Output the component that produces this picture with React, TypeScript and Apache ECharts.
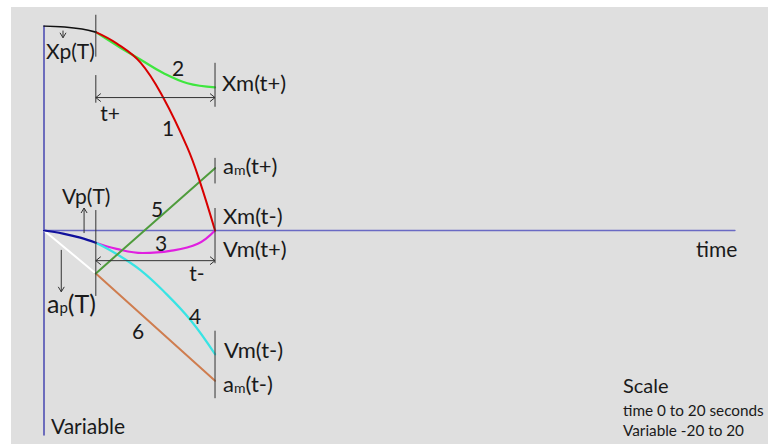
import React, { useEffect, useRef } from "react";
import * as echarts from "echarts";

// Axis ranges (Scale: time 0 to 20 seconds, Variable -20 to 20)
const T_MIN = 0;
const T_MAX = 20;
const V_MIN = -20;
const V_MAX = 20;

// Position Xp before T (black)
const xpT = [0, 0.6, 1.1, 1.5];
const xpV = [20, 19.9, 19.7, 19.4];
// Curve 1 (red)
const c1T = [1.5, 2.1, 2.8, 3.45, 4.15, 4.5, 4.95];
const c1V = [19.4, 18.3, 16.4, 13.0, 8.1, 4.9, 0];
// Curve 2 (green)
const c2T = [1.5, 2.2, 2.8, 3.45, 4.15, 4.95];
const c2V = [19.4, 17.9, 16.7, 15.4, 14.4, 14.0];
// Curve 3 (magenta)
const c3T = [1.5, 2.1, 2.85, 3.65, 4.45, 4.95];
const c3V = [-1.2, -1.8, -2.2, -2.0, -1.3, 0];
// Velocity Vp before T (blue)
const vpT = [0, 0.55, 1.05, 1.5];
const vpV = [0, -0.3, -0.7, -1.2];
// Curve 4 (cyan)
const c4T = [1.5, 2.1, 2.8, 3.45, 4.25, 4.95];
const c4V = [-1.2, -2.3, -3.9, -5.9, -8.8, -12.1];
// Acceleration ap before T (white)
const apT = [0, 1.5];
const apV = [0, -4.2];
// Curve 5 (dark green)
const c5T = [1.5, 4.95];
const c5V = [-4.2, 6.1];
// Curve 6 (brown)
const c6T = [1.5, 4.95];
const c6V = [-4.2, -14.7];

// Vertical marker segments: [t, vFrom, vTo]
const markerT = [1.5, 1.5, 1.5, 4.95, 4.95, 4.95, 4.95];
const markerFrom = [21.1, 15.2, 2.0, 16.4, 7.1, 2.2, -9.8];
const markerTo = [17.0, 12.5, -6.4, 12.1, 4.6, -3.2, -16.4];

// Dimension arrows (t+ and t-): from tStart to tEnd at level v
const dimStart = [1.5, 1.5];
const dimEnd = [4.95, 4.95];
const dimV = [13.0, -2.95];

// Small pointer arrows: t, tail v, head v
const ptrT = [0.55, 1.16, 0.5];
const ptrTail = [19.55, -0.25, -1.9];
const ptrHead = [18.85, 2.2, -6.0];

const zip = (t: number[], v: number[]) => t.map((x, i) => [x, v[i]]);

const FONT = "Lato, 'Liberation Sans', sans-serif";
const TXT = "#1a1a1a";

type Lab = { text: string; x: number; y: number; size: number; align?: string; rich?: any };

const subRich = (size: number, sub: number) => ({
  b: { fontSize: size, fontFamily: FONT, fill: TXT, color: TXT },
  s: { fontSize: sub, fontFamily: FONT, fill: TXT, color: TXT, padding: [8, 0, 0, 0] },
});

const labels: Lab[] = [
  { text: "Xp(T)", x: 46, y: 50, size: 21 },
  { text: "2", x: 178, y: 67, size: 21, align: "center" },
  { text: "Xm(t+)", x: 222, y: 82, size: 22 },
  { text: "t+", x: 110, y: 112, size: 21, align: "center" },
  { text: "1", x: 168, y: 127, size: 21, align: "center" },
  { text: "{b|a}{s|m}{b|(t+)}", x: 223, y: 165, size: 22, rich: subRich(22, 14) },
  { text: "Vp(T)", x: 62, y: 195, size: 21 },
  { text: "5", x: 157, y: 208, size: 21, align: "center" },
  { text: "Xm(t-)", x: 223, y: 215, size: 22 },
  { text: "3", x: 161, y: 242, size: 21, align: "center" },
  { text: "Vm(t+)", x: 223, y: 248, size: 22 },
  { text: "t-", x: 197, y: 272, size: 21, align: "center" },
  { text: "{b|a}{s|p}{b|(T)}", x: 47, y: 303, size: 25, rich: subRich(25, 15) },
  { text: "4", x: 195, y: 315, size: 21, align: "center" },
  { text: "6", x: 138, y: 330, size: 21, align: "center" },
  { text: "Vm(t-)", x: 224, y: 349, size: 22 },
  { text: "{b|a}{s|m}{b|(t-)}", x: 223, y: 383, size: 22, rich: subRich(22, 14) },
  { text: "Variable", x: 51, y: 425, size: 21 },
  { text: "time", x: 696, y: 248, size: 21 },
  { text: "Scale", x: 623, y: 385, size: 20 },
  { text: "time 0 to 20 seconds", x: 623, y: 410, size: 15.3 },
  { text: "Variable -20 to 20", x: 623, y: 430, size: 15.3 },
];

const curve = (data: number[][], color: string, width: number, smooth: boolean | number, z: number) => ({
  type: "line",
  data,
  showSymbol: false,
  symbol: "none",
  smooth,
  z,
  lineStyle: { color, width, cap: "round" },
  silent: true,
});

export default function App() {
  const ref = useRef<HTMLDivElement>(null);
  useEffect(() => {
    if (!ref.current) return;
    const chart = echarts.init(ref.current, undefined, { renderer: "svg" });
    chart.setOption({
      animation: false,
      backgroundColor: "transparent",
      grid: { left: 44, right: 33, top: 26, bottom: 9, containLabel: false },
      xAxis: {
        type: "value",
        min: T_MIN,
        max: T_MAX,
        axisLine: { show: true, onZero: true, lineStyle: { color: "#6a6ac4", width: 1.3 } },
        axisTick: { show: false },
        axisLabel: { show: false },
        splitLine: { show: false },
      },
      yAxis: {
        type: "value",
        min: V_MIN,
        max: V_MAX,
        axisLine: { show: true, onZero: false, lineStyle: { color: "#4646b0", width: 1.5 } },
        axisTick: { show: false },
        axisLabel: { show: false },
        splitLine: { show: false },
      },
      series: [
        curve(zip(c3T, c3V), "#e020e0", 2.2, 0.4, 3),
        curve(zip(c4T, c4V), "#38e4e4", 2.2, 0.4, 3),
        curve(zip(apT, apV), "#ffffff", 2, false, 4),
        curve(zip(c6T, c6V), "#cf7d4f", 2, false, 4),
        curve(zip(c5T, c5V), "#4f9c3c", 2, false, 5),
        curve(zip(vpT, vpV), "#10109c", 2.2, 0.4, 5),
        curve(zip(c2T, c2V), "#3ee63e", 2.2, 0.4, 6),
        curve(zip(c1T, c1V), "#d80000", 2, 0.4, 7),
        curve(zip(xpT, xpV), "#111111", 1.6, 0.4, 7),
      ],
    });

    const px = (t: number, v: number) => chart.convertToPixel({ gridIndex: 0 } as any, [t, v]) as number[];
    const stroke = { stroke: "#333333", lineWidth: 1 };
    const g: any[] = [];
    markerT.forEach((t, i) => {
      const a = px(t, markerFrom[i]);
      const b = px(t, markerTo[i]);
      g.push({ type: "line", z: 10, shape: { x1: a[0], y1: a[1], x2: b[0], y2: b[1] }, style: stroke });
    });
    dimStart.forEach((t0, i) => {
      const a = px(t0, dimV[i]);
      const b = px(dimEnd[i], dimV[i]);
      g.push({ type: "line", z: 10, shape: { x1: a[0], y1: a[1], x2: b[0], y2: b[1] }, style: stroke });
      g.push({ type: "polyline", z: 10, shape: { points: [[a[0] + 5, a[1] - 4], [a[0], a[1]], [a[0] + 5, a[1] + 4]] }, style: { ...stroke, fill: null } });
      g.push({ type: "polyline", z: 10, shape: { points: [[b[0] - 5, b[1] - 4], [b[0], b[1]], [b[0] - 5, b[1] + 4]] }, style: { ...stroke, fill: null } });
    });
    ptrT.forEach((t, i) => {
      const a = px(t, ptrTail[i]);
      const b = px(t, ptrHead[i]);
      const dir = b[1] > a[1] ? -1 : 1;
      g.push({ type: "line", z: 10, shape: { x1: a[0], y1: a[1], x2: b[0], y2: b[1] }, style: stroke });
      g.push({ type: "polyline", z: 10, shape: { points: [[b[0] - 3, b[1] + dir * 5], [b[0], b[1]], [b[0] + 3, b[1] + dir * 5]] }, style: { ...stroke, fill: null } });
    });
    labels.forEach((l) => {
      const style: any = {
        text: l.text,
        x: l.x,
        y: l.y,
        fill: TXT,
        fontSize: l.size,
        fontFamily: FONT,
        align: l.align || "left",
        textAlign: l.align || "left",
        verticalAlign: "middle",
        textVerticalAlign: "middle",
      };
      if (l.rich) style.rich = l.rich;
      g.push({ type: "text", z: 12, style });
    });
    chart.setOption({ graphic: g });

    return () => chart.dispose();
  }, []);

  return (
    <div style={{ position: "fixed", left: 0, top: 0, width: 768, height: 444, background: "#ffffff" }}>
      <div style={{ position: "absolute", left: 11, top: 7, right: 0, bottom: 0, background: "#dfdfdf" }} />
      <div ref={ref} style={{ position: "absolute", left: 0, top: 0, width: 768, height: 444 }} />
    </div>
  );
}
